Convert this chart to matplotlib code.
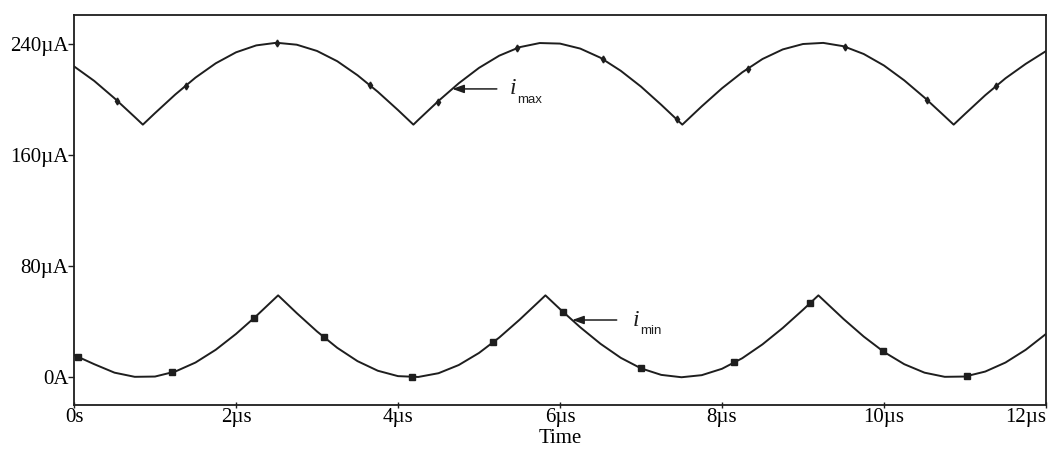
import numpy as np
import matplotlib
matplotlib.use("Agg")
import matplotlib.pyplot as plt

# Time base (µs) and currents (µA) for the two envelopes
t_max = [0, 0.25, 0.5, 0.75, 0.85, 1.0, 1.25, 1.5, 1.75, 2.0, 2.25, 2.5, 2.75,
         3.0, 3.25, 3.5, 3.75, 4.0, 4.19, 4.25, 4.5, 4.75, 5.0, 5.25, 5.5, 5.75,
         6.0, 6.25, 6.5, 6.75, 7.0, 7.25, 7.51, 7.75, 8.0, 8.25, 8.5, 8.75, 9.0,
         9.25, 9.5, 9.75, 10.0, 10.25, 10.5, 10.75, 10.86, 11.0, 11.25, 11.5,
         11.75, 12.0]
i_max = [224, 213.5, 201, 187.5, 182, 190.3, 203.7, 215.9, 226.2, 234.1, 239.1,
         241, 239.6, 235.1, 227.7, 217.6, 205.7, 192.5, 182, 185.4, 199.1, 211.8,
         222.9, 231.7, 237.8, 240.8, 240.4, 236.8, 230.2, 220.8, 209.4, 196.3,
         182, 195.2, 208.2, 219.7, 229.3, 236.2, 240.1, 240.9, 238.5, 232.9,
         224.6, 213.9, 201.5, 188.0, 182, 189.7, 203.2, 215.4, 225.8, 235]

t_min = [0, 0.25, 0.5, 0.75, 1.0, 1.25, 1.5, 1.75, 2.0, 2.25, 2.5, 2.52, 2.75,
         3.0, 3.25, 3.5, 3.75, 4.0, 4.25, 4.5, 4.75, 5.0, 5.25, 5.5, 5.75, 5.82,
         6.0, 6.25, 6.5, 6.75, 7.0, 7.25, 7.5, 7.75, 8.0, 8.25, 8.5, 8.75, 9.0,
         9.19, 9.25, 9.5, 9.75, 10.0, 10.25, 10.5, 10.75, 11.0, 11.25, 11.5,
         11.75, 12.0]
i_min = [16, 9.4, 3.3, 0.3, 0.5, 4.1, 10.6, 19.8, 31.2, 44.1, 57.9, 59, 46.2,
         33.0, 21.2, 11.6, 4.7, 0.8, 0.2, 2.9, 8.8, 17.5, 28.6, 41.4, 55.1, 59,
         49.1, 36.0, 24.1, 14.0, 6.4, 1.7, 0.0, 1.5, 6.1, 13.7, 23.7, 35.5, 48.6,
         59, 55.7, 42.0, 29.3, 18.2, 9.4, 3.3, 0.3, 0.5, 4.1, 10.6, 19.8, 31.2]

# Sample points flagged with trace symbols
mark_t_max = [0.53, 1.38, 2.5, 3.65, 4.49, 5.47, 6.53, 7.44, 8.32, 9.52, 10.53, 11.38]
mark_t_min = [0.05, 1.21, 2.22, 3.09, 4.17, 5.17, 6.04, 7.0, 8.15, 9.09, 9.99, 11.02]

x_ticks = [0, 2, 4, 6, 8, 10, 12]
x_labels = ["0s", "2µs", "4µs", "6µs", "8µs", "10µs", "12µs"]
y_ticks = [0, 80, 160, 240]
y_labels = ["0A", "80µA", "160µA", "240µA"]

serif = ["Liberation Serif", "DejaVu Serif"]
ink = "#1e1e1e"
fs = 15

fig = plt.figure(figsize=(10.48, 4.57), dpi=100)
ax = fig.add_axes([74 / 1048, 1 - 405 / 457, (1046 - 74) / 1048, (405 - 15) / 457])

ax.plot(t_max, i_max, color=ink, lw=1.4)
ax.plot(t_min, i_min, color=ink, lw=1.4)
ax.plot(mark_t_max, np.interp(mark_t_max, t_max, i_max), ls="none",
        marker="d", ms=3.5, color=ink)
ax.plot(mark_t_min, np.interp(mark_t_min, t_min, i_min), ls="none",
        marker="s", ms=4, color=ink)

ax.set_xlim(0, 12)
ax.set_ylim(-20, 261)
ax.set_xticks(x_ticks)
ax.set_xticklabels(x_labels, fontfamily=serif, fontsize=fs)
ax.set_yticks(y_ticks)
ax.set_yticklabels(y_labels, fontfamily=serif, fontsize=fs)
ax.tick_params(axis="x", direction="inout", length=5, width=1, color=ink, pad=0)
ax.tick_params(axis="y", direction="out", length=4, width=1, color=ink, pad=0)
ax.get_xticklabels()[-1].set_horizontalalignment("right")
ax.set_xlabel("Time", fontfamily=serif, fontsize=fs, labelpad=1)
for s in ax.spines.values():
    s.set_linewidth(1.3)
    s.set_color(ink)

# Curve annotations
def label(tip_t, t_arr, v_arr, tail_t, text_t, sub):
    y = float(np.interp(tip_t, t_arr, v_arr))
    ax.annotate("", xy=(tip_t, y), xytext=(tail_t, y),
                arrowprops=dict(arrowstyle="-|>,head_length=0.7,head_width=0.25",
                                color=ink, lw=1.1, shrinkA=0, shrinkB=0))
    ax.text(text_t, y, "i", fontfamily=serif, fontstyle="italic", fontsize=17,
            ha="left", va="center", color=ink)
    ax.text(text_t + 0.09, y - 8, sub, fontfamily=["Liberation Sans", "DejaVu Sans"],
            fontsize=9.5, ha="left", va="center", color=ink)

label(4.67, t_max, i_max, 5.22, 5.38, "max")
label(6.15, t_min, i_min, 6.70, 6.90, "min")

fig.savefig("out.png", dpi=100)
